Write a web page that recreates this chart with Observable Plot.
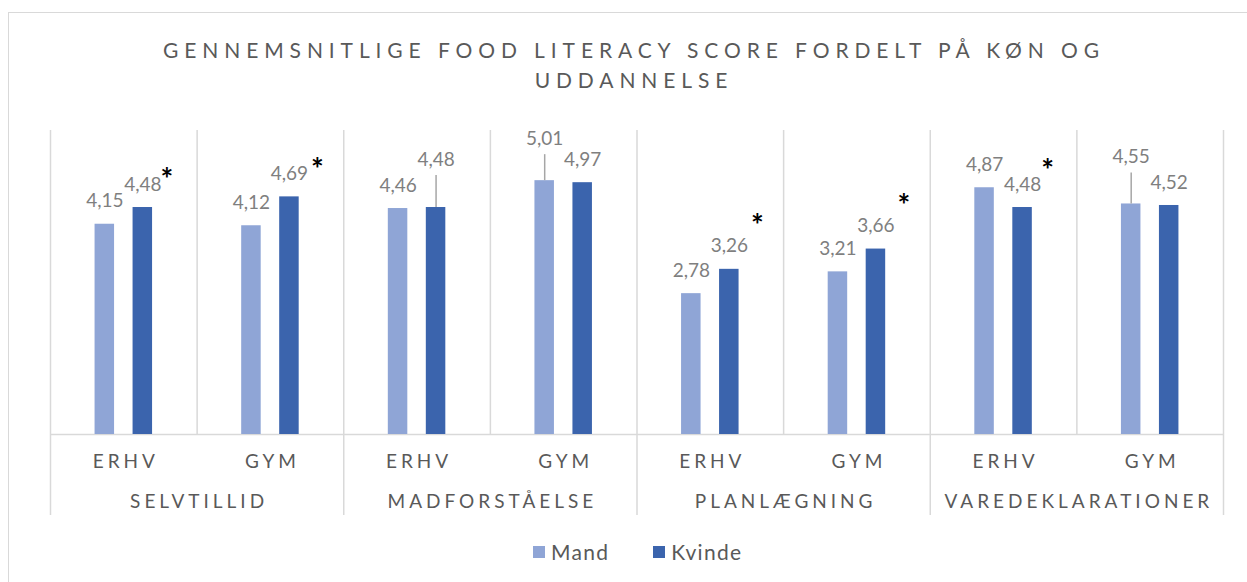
<!DOCTYPE html>
<html><head><meta charset="utf-8">
<script src="https://cdn.jsdelivr.net/npm/d3@7"></script>
<script src="https://cdn.jsdelivr.net/npm/@observablehq/plot@0.6"></script>
<style>
body{margin:0;background:#fff;font-family:Lato,"Open Sans",sans-serif;}
#wrap{position:relative;width:1247px;height:582px;overflow:hidden;background:#fff;}
#frame{position:absolute;left:8px;top:12px;width:1400px;height:700px;border:1px solid #d9d9d9;box-sizing:border-box;}
#title{position:absolute;left:0;width:1268px;top:35px;text-align:center;color:#595959;font-size:21px;letter-spacing:5.9px;line-height:30px;}
#chart{position:absolute;left:0;top:110px;}
#legend{position:absolute;top:539px;left:533px;display:flex;align-items:center;color:#595959;font-size:21px;letter-spacing:1.3px;}
.item{display:flex;align-items:center;}
.sw{width:12px;height:12px;margin-right:6px;}
</style></head>
<body>
<div id="wrap">
  <div id="frame"></div>
  <div id="title">GENNEMSNITLIGE FOOD LITERACY SCORE FORDELT PÅ KØN OG<br>UDDANNELSE</div>
  <div id="chart"></div>
  <div id="legend"></div>
</div>
<script>
// ---- data ----
const categories = ["Selvtillid", "Madforståelse", "Planlægning", "Varedeklarationer"];
const educations = ["ERHV", "GYM"];
const sexes = ["Mand", "Kvinde"];
const mand   = [4.15, 4.12, 4.46, 5.01, 2.78, 3.21, 4.87, 4.55];
const kvinde = [4.48, 4.69, 4.48, 4.97, 3.26, 3.66, 4.48, 4.52];
const significant = [true, true, false, false, true, true, true, false];
const colors = ["#8FA5D6", "#3B64AD"];

// ---- layout (px) ----
const slotPx = 1173 / 8;
const halfBar = 9.75 / slotPx, barOff = 19 / slotPx;
const pxPerUnit = 304 / 6;
const lifted = {"Madforståelse|ERHV|Kvinde": 48, "Madforståelse|GYM|Mand": 42, "Varedeklarationer|GYM|Mand": 47};
const starOffsets = {
  "Selvtillid|ERHV": [24, -27], "Selvtillid|GYM": [28, -26],
  "Planlægning|ERHV": [28, -43], "Planlægning|GYM": [28, -43],
  "Varedeklarationer|ERHV": [25, -36]
};

const rows = [];
for (let i = 0; i < 8; i++) {
  const cat = categories[Math.floor(i / 2)], edu = educations[i % 2];
  [mand[i], kvinde[i]].forEach((v, s) => {
    rows.push({slot: i, cat, edu, sex: sexes[s], value: v, sig: significant[i],
      cx: i + 0.5 + (s === 0 ? -barOff : barOff), key: cat + "|" + edu + "|" + sexes[s]});
  });
}
const fmt = v => d3.format(".2f")(v).replace(".", ",");
const normal = rows.filter(d => !(d.key in lifted));
const lift = rows.filter(d => d.key in lifted);
const stars = rows.filter(d => d.sig && d.sex === "Kvinde");
const slots = d3.range(8).map(i => ({i, edu: educations[i % 2]}));
const spaced = new Set([...educations, ...categories.map(c => c.toUpperCase())]);

const marks = [
  Plot.ruleX(d3.range(0, 9, 2), {x: d => d, stroke: "#d9d9d9", strokeWidth: 1.5, insetBottom: -81}),
  Plot.ruleX(d3.range(1, 9, 2), {x: d => d, stroke: "#d9d9d9", strokeWidth: 1.5}),
  Plot.ruleY([0], {stroke: "#d9d9d9", strokeWidth: 1.5}),
  Plot.rectY(rows, {x1: d => d.cx - halfBar, x2: d => d.cx + halfBar, y1: 0, y2: "value", fill: "sex"}),
  Plot.text(normal, {x: "cx", y: "value", text: d => fmt(d.value), dy: -23, fill: "#7f7f7f", fontSize: 19}),
  ...lift.map(d => Plot.text([d], {x: "cx", y: "value", text: d => fmt(d.value), dy: -lifted[d.key], fill: "#7f7f7f", fontSize: 19})),
  ...lift.map(d => Plot.ruleX([d], {x: "cx", y1: "value", y2: d => d.value + (lifted[d.key] - 16) / pxPerUnit, stroke: "#a6a6a6", strokeWidth: 1.5})),
  ...stars.map(d => {
    const [dx, dy] = starOffsets[d.cat + "|" + d.edu];
    return Plot.text([d], {x: "cx", y: "value", text: () => "*", dx, dy, fill: "#000", fontSize: 30, fontWeight: "bold"});
  }),
  Plot.text(slots, {x: d => d.i + 0.5, frameAnchor: "bottom", lineAnchor: "middle", dy: 27, dx: 2, text: "edu", fill: "#595959", fontSize: 19}),
  Plot.text(categories, {x: (d, i) => 2 * i + 1, frameAnchor: "bottom", lineAnchor: "middle", dy: 67, dx: 2, text: d => d.toUpperCase(), fill: "#595959", fontSize: 19})
];

const svg = Plot.plot({
  width: 1247, height: 420,
  marginLeft: 50, marginRight: 24, marginTop: 20, marginBottom: 96,
  style: {fontFamily: "Lato, 'Open Sans', sans-serif", background: "transparent", overflow: "visible"},
  x: {type: "linear", domain: [0, 8], axis: null},
  y: {domain: [0, 6], axis: null},
  color: {domain: sexes, range: colors},
  marks
});
document.getElementById("chart").appendChild(svg);
d3.select(svg).selectAll("text").filter(function() { return spaced.has(this.textContent); }).attr("letter-spacing", "4px");

const leg = document.getElementById("legend");
sexes.forEach((s, i) => {
  const it = document.createElement("div");
  it.className = "item";
  if (i > 0) it.style.marginLeft = "44px";
  it.innerHTML = `<div class="sw" style="background:${colors[i]}"></div><span>${s}</span>`;
  leg.appendChild(it);
});
</script>
</body></html>
